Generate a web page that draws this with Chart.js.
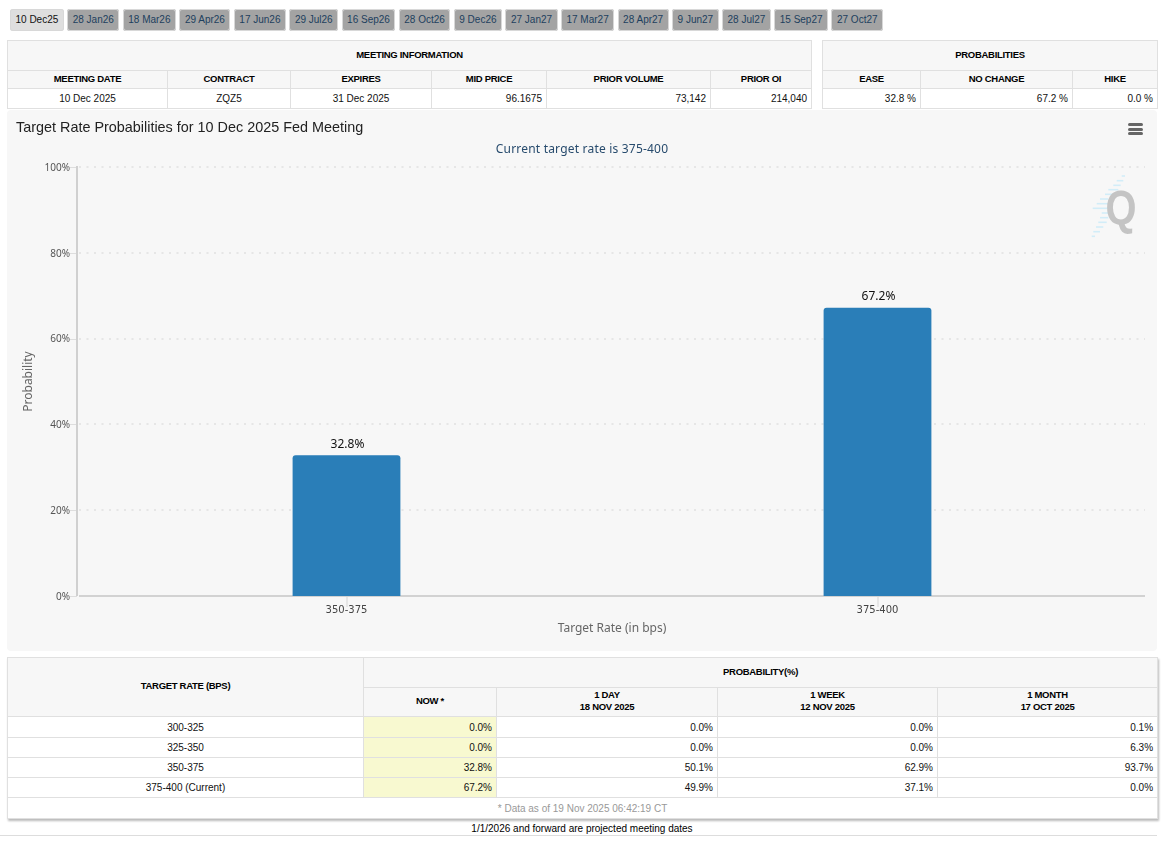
<!DOCTYPE html>
<html>
<head>
<meta charset="utf-8">
<title>Target Rate Probabilities</title>
<script src="https://cdn.jsdelivr.net/npm/chart.js@4"></script>
<style>
  html, body { margin: 0; padding: 0; background: #fff; overflow: hidden; }
  body { width: 1168px; height: 843px; position: relative; font-family: "Liberation Sans", Arial, sans-serif; font-size: 10px; color: #111; }
  #tabs { position: absolute; left: 10px; top: 9px; display: flex; gap: 3.4px; }
  #tabs span { height: 22px; line-height: 22px; padding: 0 5.5px; box-sizing: border-box; background: #a3a3a3; color: #1d3f5e; border-radius: 3px; box-shadow: 0 0 0 1px #d8d8d8 inset; text-align: center; }
  #tabs span.on { background: #dedede; color: #111; }
  table { position: absolute; border-collapse: collapse; table-layout: fixed; background: #fff; }
  td, th { border: 1px solid #e0e0e0; padding: 0 4px; box-sizing: border-box; font-size: 10px; overflow: hidden; }
  th { background: #f7f7f7; text-align: center; color: #000; font-weight: bold; font-size: 9.5px; letter-spacing: -.3px; line-height: 12px; padding-bottom: 1px; }
  #t3 th { padding-bottom: 2px; }
  td { text-align: right; }
  td.c { text-align: center; }
  td.now { background: #f8f9d0; }
  td.note { text-align: center; color: #999; }
  #panel { position: absolute; left: 7px; top: 110px; width: 1150px; height: 541px; background: #f7f7f7; border-radius: 4px; }
  #panel canvas { position: absolute; left: 0; top: 0; }
  #chartTitle { position: absolute; left: 9px; top: 9px; font-size: 14.4px; color: #222; white-space: nowrap; }
  #chartSub { position: absolute; left: 0; width: 100%; top: 30px; text-align: center; font-family: "Noto Sans", sans-serif; font-size: 12px; letter-spacing: .2px; color: #274b6d; }
  #menu { position: absolute; left: 1121px; top: 13px; width: 15px; height: 12px; }
  #menu i { display: block; height: 3px; margin-bottom: 1.5px; background: #666; border-radius: 1.5px; }
  #logo { position: absolute; left: 1073px; top: 62px; }
  #foot { position: absolute; left: 7px; width: 1150px; top: 823px; text-align: center; color: #000; }
  #rule { position: absolute; left: 0; width: 1157px; top: 835px; height: 1px; background: #ddd; }
  #t3 { box-shadow: 1px 2px 2px #bbb; }
</style>
</head>
<body>
<div id="tabs"></div>
<table id="t1" style="left:7px;top:40px;width:804px"></table>
<table id="t2" style="left:822px;top:40px;width:335px"></table>
<div id="panel">
  <canvas id="chart" width="1150" height="541"></canvas>
  <div id="chartTitle">Target Rate Probabilities for 10 Dec 2025 Fed Meeting</div>
  <div id="chartSub">Current target rate is 375-400</div>
  <div id="menu"><i></i><i></i><i></i></div>
  <svg id="logo" width="70" height="68" viewBox="0 0 70 68">
    <g stroke="#d2edf8" stroke-width="1.6">
      <line x1="41.7" y1="4" x2="45" y2="4"/><line x1="36.7" y1="8.7" x2="43.3" y2="8.7"/><line x1="33.3" y1="13.3" x2="40.7" y2="13.3"/>
      <line x1="28.3" y1="17.7" x2="38.3" y2="17.7"/><line x1="25" y1="22.3" x2="33.3" y2="22.3"/><line x1="20" y1="27" x2="28.3" y2="27"/>
      <line x1="16.7" y1="31.7" x2="28.3" y2="31.7"/><line x1="12.7" y1="36.3" x2="28.3" y2="36.3"/><line x1="21.7" y1="41" x2="28.3" y2="41"/>
      <line x1="20" y1="45.7" x2="28.3" y2="45.7"/><line x1="18.3" y1="50.3" x2="26.7" y2="50.3"/><line x1="16" y1="55" x2="23.3" y2="55"/>
      <line x1="13.3" y1="59.7" x2="20" y2="59.7"/><line x1="11.7" y1="64.3" x2="15" y2="64.3"/>
    </g>
    <text transform="translate(25.5,52) scale(1.05,1.25)" font-family="Liberation Sans, Arial" font-weight="bold" font-size="38" fill="#c4c4c4">Q</text>
  </svg>
</div>
<table id="t3" style="left:7px;top:657px;width:1150px"></table>
<div id="foot">1/1/2026 and forward are projected meeting dates</div>
<div id="rule"></div>

<script>
// datos del grafico
const rateCategories = ['350-375', '375-400'];
const rateProbabilities = [32.8, 67.2];
const yTickValues = [0, 20, 40, 60, 80, 100];

// pestañas de reuniones
const meetingTabs = ['10 Dec25','28 Jan26','18 Mar26','29 Apr26','17 Jun26','29 Jul26','16 Sep26','28 Oct26','9 Dec26','27 Jan27','17 Mar27','28 Apr27','9 Jun27','28 Jul27','15 Sep27','27 Oct27'];

// tablas
const meetingHeaders = ['MEETING DATE','CONTRACT','EXPIRES','MID PRICE','PRIOR VOLUME','PRIOR OI'];
const meetingValues = ['10 Dec 2025','ZQZ5','31 Dec 2025','96.1675','73,142','214,040'];
const probHeaders = ['EASE','NO CHANGE','HIKE'];
const probValues = ['32.8 %','67.2 %','0.0 %'];
const targetRates = ['300-325','325-350','350-375','375-400 (Current)'];
const nowValues = ['0.0%','0.0%','32.8%','67.2%'];
const oneDayValues = ['0.0%','0.0%','50.1%','49.9%'];
const oneWeekValues = ['0.0%','0.0%','62.9%','37.1%'];
const oneMonthValues = ['0.1%','6.3%','93.7%','0.0%'];

document.getElementById('tabs').innerHTML = meetingTabs
  .map((t, i) => `<span class="${i === 0 ? 'on' : ''}">${t}</span>`).join('');

const cols = w => '<colgroup>' + w.map(x => `<col style="width:${x}px">`).join('') + '</colgroup>';

document.getElementById('t1').innerHTML = cols([160,123,141,115,164,101]) +
  `<tr style="height:30px"><th colspan="6">MEETING INFORMATION</th></tr>` +
  `<tr style="height:18px">${meetingHeaders.map(h => `<th>${h}</th>`).join('')}</tr>` +
  `<tr style="height:20px">${meetingValues.map((v, i) => `<td class="${i < 3 ? 'c' : ''}">${v}</td>`).join('')}</tr>`;

document.getElementById('t2').innerHTML = cols([98,152,85]) +
  `<tr style="height:30px"><th colspan="3">PROBABILITIES</th></tr>` +
  `<tr style="height:18px">${probHeaders.map(h => `<th>${h}</th>`).join('')}</tr>` +
  `<tr style="height:20px">${probValues.map(v => `<td>${v}</td>`).join('')}</tr>`;

document.getElementById('t3').innerHTML = cols([356,133,221,220,220]) +
  `<tr style="height:30px"><th rowspan="2">TARGET RATE (BPS)</th><th colspan="4">PROBABILITY(%)</th></tr>` +
  `<tr style="height:29px"><th>NOW *</th><th>1 DAY<br>18 NOV 2025</th><th>1 WEEK<br>12 NOV 2025</th><th>1 MONTH<br>17 OCT 2025</th></tr>` +
  targetRates.map((r, i) => `<tr style="height:${i === 0 ? 21 : 20}px"><td class="c">${r}</td><td class="now">${nowValues[i]}</td><td>${oneDayValues[i]}</td><td>${oneWeekValues[i]}</td><td>${oneMonthValues[i]}</td></tr>`).join('') +
  `<tr style="height:21px"><td class="note" colspan="5">* Data as of 19 Nov 2025 06:42:19 CT</td></tr>`;

// rejilla punteada, ejes y etiquetas sobre las barras
const decorPlugin = {
  id: 'decor',
  beforeDatasetsDraw(chart) {
    const { ctx, chartArea, scales: { x, y } } = chart;
    const left = chartArea.left - 4, right = chartArea.right + 2;
    ctx.save();
    yTickValues.forEach(v => {
      const py = Math.round(y.getPixelForValue(v));
      // marca corta del eje Y
      ctx.lineWidth = 1;
      ctx.strokeStyle = '#dddddd';
      ctx.beginPath(); ctx.moveTo(left - 7, py + 0.5); ctx.lineTo(left, py + 0.5); ctx.stroke();
      ctx.lineWidth = 2;
      if (v === 0) {
        ctx.strokeStyle = '#d2d2d2';
      } else {
        ctx.strokeStyle = '#e6e6e6';
        ctx.setLineDash([2, 5.5]);
      }
      ctx.beginPath(); ctx.moveTo(left + 2, py); ctx.lineTo(right, py); ctx.stroke();
      ctx.setLineDash([]);
    });
    // eje Y
    ctx.lineWidth = 2;
    ctx.strokeStyle = '#d0d0d0';
    ctx.beginPath();
    ctx.moveTo(left, y.getPixelForValue(100) - 1); ctx.lineTo(left, y.getPixelForValue(0)); ctx.stroke();
    // marcas del eje X
    ctx.strokeStyle = '#e6e6e6';
    rateCategories.forEach((c, i) => {
      const px = Math.round(x.getPixelForValue(i));
      ctx.beginPath(); ctx.moveTo(px, y.getPixelForValue(0) + 1); ctx.lineTo(px, y.getPixelForValue(0) + 11); ctx.stroke();
    });
    ctx.restore();
  },
  afterDatasetsDraw(chart) {
    const { ctx } = chart;
    const meta = chart.getDatasetMeta(0);
    ctx.save();
    ctx.font = '12px "Noto Sans", sans-serif';
    ctx.fillStyle = '#111';
    ctx.textAlign = 'center';
    ctx.textBaseline = 'bottom';
    meta.data.forEach((bar, i) => {
      ctx.fillText(rateProbabilities[i].toFixed(1) + '%', bar.x + 1, bar.y - 5);
    });
    ctx.restore();
  }
};

new Chart(document.getElementById('chart'), {
  type: 'bar',
  data: {
    labels: rateCategories,
    datasets: [{
      data: rateProbabilities,
      backgroundColor: '#2a7eb8',
      borderWidth: 0,
      borderRadius: { topLeft: 3, topRight: 3 },
      barPercentage: 0.203,
      categoryPercentage: 1
    }]
  },
  options: {
    responsive: false,
    animation: false,
    layout: { padding: { left: 0, right: 14, top: 57, bottom: 0 } },
    plugins: { legend: { display: false }, tooltip: { enabled: false } },
    scales: {
      x: {
        grid: { display: false },
        border: { display: false },
        ticks: { padding: 0, color: '#444', font: { family: '"DejaVu Sans", sans-serif', size: 10 } },
        title: { display: true, text: 'Target Rate (in bps)', color: '#666', font: { family: '"Noto Sans", sans-serif', size: 12 }, padding: { top: 2, bottom: 15 } },
        afterFit: s => { s.height = 55; }
      },
      y: {
        min: 0,
        max: 100,
        afterBuildTicks: s => { s.ticks = yTickValues.map(v => ({ value: v })); },
        grid: { display: false },
        border: { display: false },
        ticks: { padding: 3, labelOffset: 1, color: '#555', font: { family: '"Noto Sans", sans-serif', size: 10 }, callback: v => v + '%' },
        title: { display: true, text: 'Probability', color: '#666', font: { family: '"Noto Sans", sans-serif', size: 12 }, padding: { top: 14 } },
        afterFit: s => { s.width = 74; }
      }
    }
  },
  plugins: [decorPlugin]
});
</script>
</body>
</html>
